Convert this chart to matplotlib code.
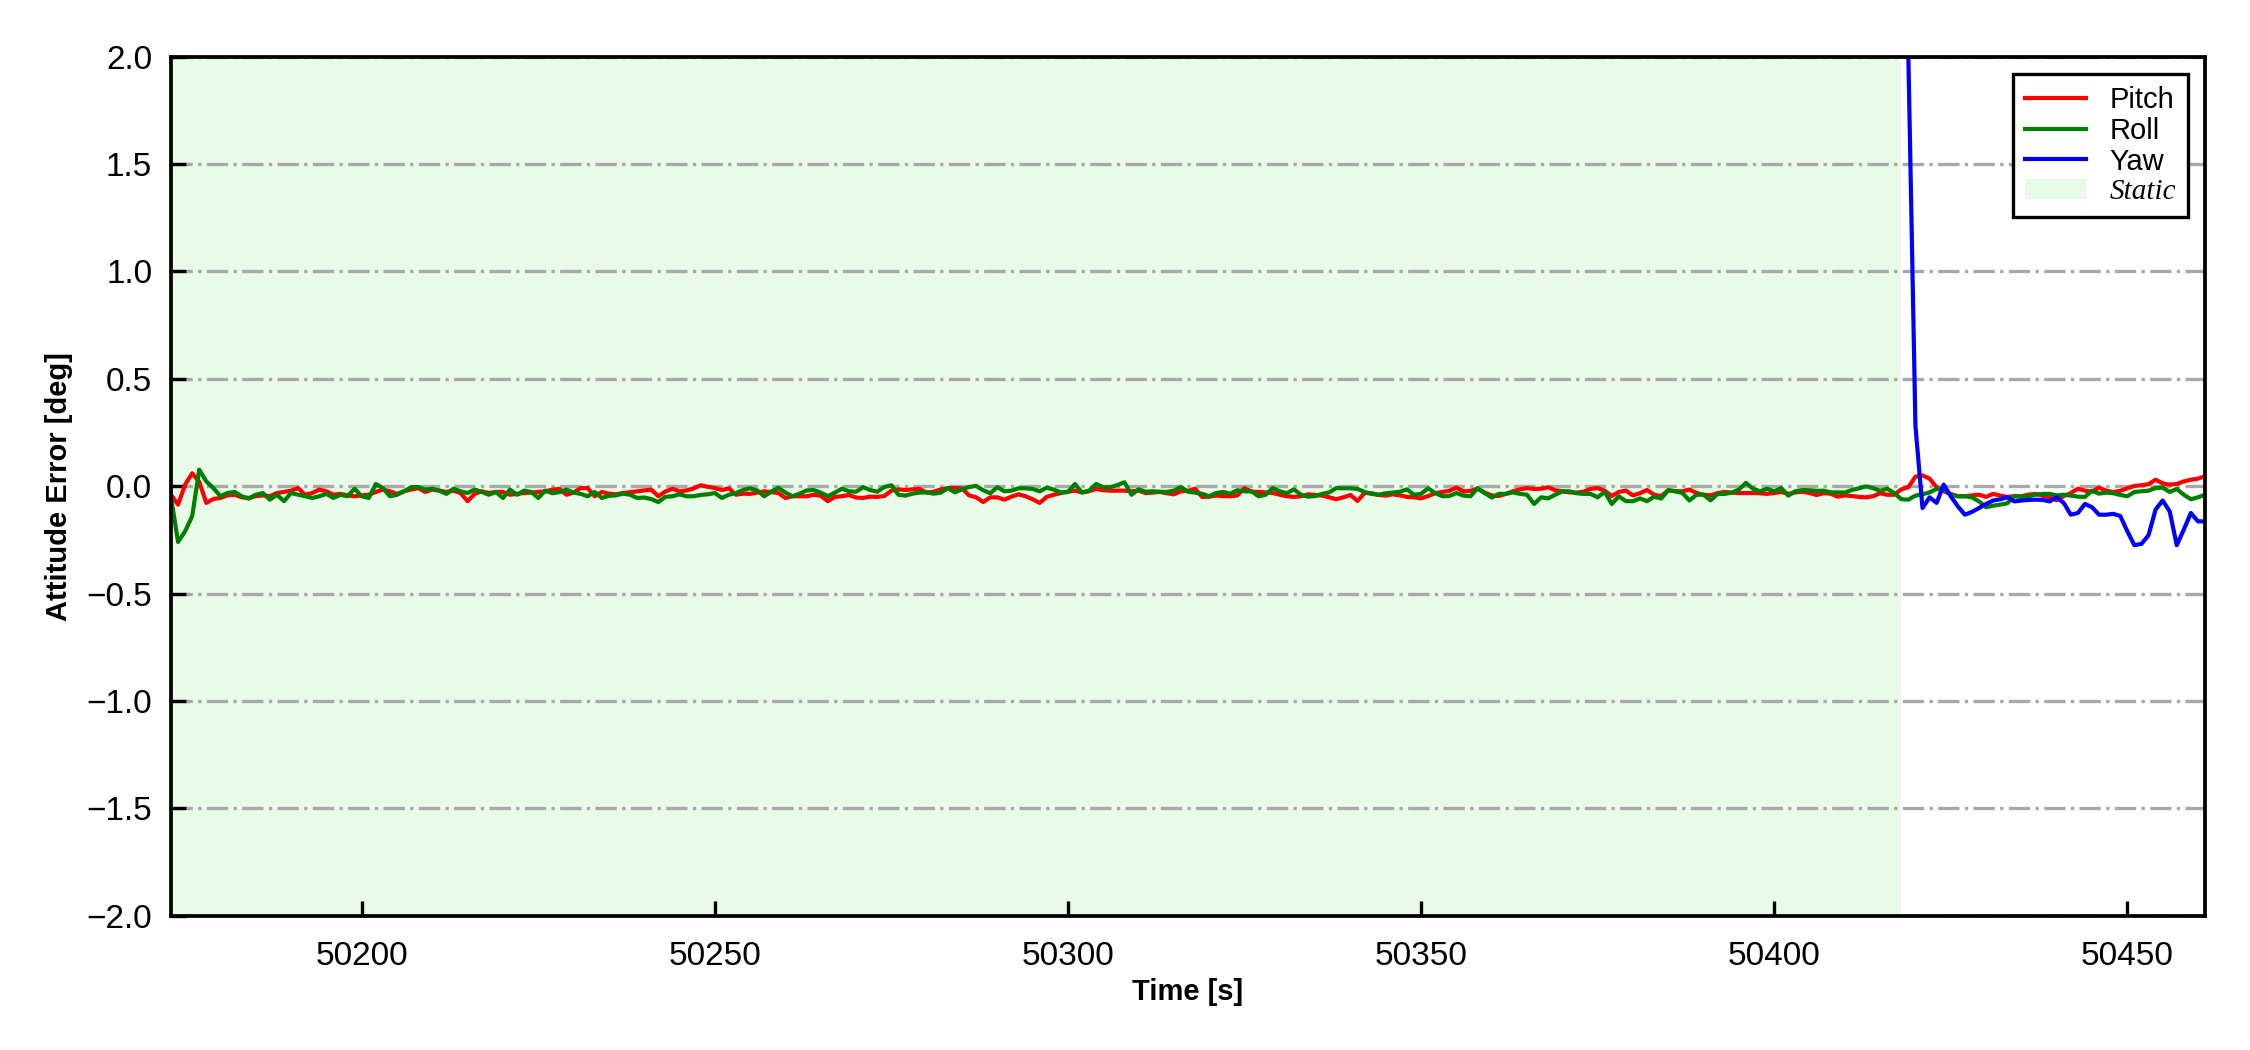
import numpy as np
import matplotlib
matplotlib.use('Agg')
import matplotlib.pyplot as plt
from matplotlib.patches import Patch
from matplotlib.lines import Line2D

# attitude errors sampled at 1 Hz, starting at t0
t0 = 50173
static_end = 50418

pitch = [
    -0.040, -0.086, 0.007, 0.060, 0.020, -0.078, -0.060, -0.055, -0.043, -0.040,
    -0.052, -0.055, -0.047, -0.043, -0.047, -0.032, -0.027, -0.021, -0.009, -0.040,
    -0.032, -0.016, -0.024, -0.040, -0.036, -0.043, -0.047, -0.043, -0.040, -0.027,
    -0.016, -0.024, -0.036, -0.024, -0.016, -0.009, -0.027, -0.016, -0.021, -0.027,
    -0.021, -0.032, -0.070, -0.036, -0.024, -0.032, -0.027, -0.027,
    -0.040, -0.036, -0.032, -0.030, -0.027, -0.024, -0.016, -0.013, -0.040, -0.030,
    -0.009, -0.009, -0.047, -0.027, -0.035, -0.038, -0.032, -0.028, -0.024, -0.020,
    -0.016, -0.047, -0.025, -0.012, -0.024, -0.020, -0.010, 0.004, -0.003, -0.009,
    -0.018, -0.010, -0.040, -0.035, -0.036, -0.030, -0.024, -0.028, -0.032, -0.055,
    -0.047, -0.047, -0.047, -0.040, -0.045, -0.070, -0.050, -0.047,
    -0.041, -0.053, -0.055, -0.049, -0.050, -0.046, -0.021, -0.015, -0.018, -0.015,
    -0.013, -0.030, -0.026, -0.015, -0.009, -0.009, -0.010, -0.043, -0.052, -0.074,
    -0.052, -0.052, -0.063, -0.049, -0.038, -0.047, -0.061, -0.078, -0.050, -0.040,
    -0.032, -0.026, -0.021, -0.029, -0.024, -0.013, -0.019, -0.021, -0.021, -0.021,
    -0.024, -0.021, -0.032, -0.030, -0.027, -0.033, -0.038, -0.024,
    -0.022, -0.012, -0.050, -0.049, -0.044, -0.046, -0.047, -0.043, -0.009, -0.026,
    -0.027, -0.029, -0.032, -0.040, -0.047, -0.050, -0.047, -0.038, -0.041, -0.044,
    -0.052, -0.061, -0.052, -0.041, -0.069, -0.032, -0.033, -0.041, -0.044, -0.038,
    -0.043, -0.050, -0.052, -0.057, -0.046, -0.033, -0.027, -0.022, -0.007, -0.024,
    -0.022, -0.012, -0.030, -0.043, -0.046, -0.036, -0.024, -0.015,
    -0.009, -0.013, -0.012, -0.005, -0.019, -0.024, -0.029, -0.030, -0.026, -0.013,
    -0.009, -0.021, -0.046, -0.027, -0.021, -0.043, -0.033, -0.018, -0.040, -0.046,
    -0.019, -0.024, -0.024, -0.016, -0.032, -0.040, -0.043, -0.032, -0.027, -0.030,
    -0.032, -0.032, -0.032, -0.033, -0.036, -0.032, -0.027, -0.036, -0.029, -0.026,
    -0.032, -0.041, -0.033, -0.035, -0.049, -0.043, -0.046, -0.050,
    -0.052, -0.047, -0.033, -0.040, -0.040, -0.015, -0.005, 0.044, 0.050, 0.035,
    -0.005, -0.024, -0.036, -0.047, -0.047, -0.043, -0.040, -0.050, -0.036, -0.044,
    -0.050, -0.047, -0.047, -0.040, -0.036, -0.044, -0.052, -0.066, -0.046, -0.032,
    -0.012, -0.021, -0.026, -0.007, -0.021, -0.027, -0.022, -0.010, 0.001, 0.004,
    0.009, 0.030, 0.013, 0.007, 0.010, 0.022, 0.030, 0.035, 0.046,
]

roll = [
    -0.050, -0.260, -0.210, -0.140, 0.077, 0.022, -0.009, -0.047, -0.032, -0.027,
    -0.047, -0.058, -0.040, -0.032, -0.063, -0.040, -0.070, -0.032, -0.040, -0.047,
    -0.055, -0.047, -0.036, -0.055, -0.040, -0.047, -0.012, -0.047, -0.055, 0.010,
    -0.009, -0.047, -0.040, -0.024, -0.005, -0.004, -0.016, -0.012, -0.021, -0.036,
    -0.012, -0.024, -0.032, -0.016, -0.027, -0.040, -0.027, -0.055,
    -0.016, -0.040, -0.021, -0.027, -0.055, -0.021, -0.033, -0.028, -0.016, -0.030,
    -0.036, -0.047, -0.027, -0.055, -0.045, -0.043, -0.035, -0.040, -0.055, -0.053,
    -0.060, -0.074, -0.050, -0.047, -0.038, -0.047, -0.047, -0.041, -0.038, -0.032,
    -0.055, -0.040, -0.032, -0.018, -0.010, -0.020, -0.047, -0.025, -0.008, -0.030,
    -0.047, -0.035, -0.020, -0.018, -0.030, -0.047, -0.030, -0.012,
    -0.024, -0.026, -0.005, -0.018, -0.026, -0.004, 0.004, -0.040, -0.044, -0.035,
    -0.030, -0.029, -0.035, -0.030, -0.009, -0.029, -0.015, -0.004, 0.001, -0.019,
    -0.033, -0.005, -0.024, -0.021, -0.010, -0.010, -0.013, -0.024, -0.007, -0.016,
    -0.029, -0.027, 0.010, -0.030, -0.021, 0.010, -0.005, -0.005, 0.005, 0.018,
    -0.040, -0.015, -0.026, -0.024, -0.026, -0.027, -0.021, -0.004,
    -0.026, -0.030, -0.036, -0.047, -0.032, -0.027, -0.035, -0.019, -0.024, -0.024,
    -0.047, -0.040, -0.009, -0.024, -0.033, -0.015, -0.040, -0.049, -0.046, -0.036,
    -0.029, -0.009, -0.010, -0.010, -0.013, -0.027, -0.036, -0.040, -0.033, -0.030,
    -0.026, -0.015, -0.040, -0.036, -0.010, -0.032, -0.047, -0.046, -0.032, -0.044,
    -0.047, -0.009, -0.032, -0.053, -0.036, -0.036, -0.029, -0.036,
    -0.040, -0.083, -0.052, -0.057, -0.040, -0.024, -0.024, -0.033, -0.036, -0.036,
    -0.052, -0.027, -0.083, -0.047, -0.070, -0.070, -0.057, -0.070, -0.049, -0.058,
    -0.019, -0.024, -0.032, -0.067, -0.040, -0.040, -0.066, -0.036, -0.036, -0.030,
    -0.016, 0.015, -0.012, -0.024, -0.012, -0.024, -0.009, -0.044, -0.024, -0.018,
    -0.019, -0.022, -0.021, -0.029, -0.029, -0.030, -0.018, -0.010,
    -0.001, -0.009, -0.022, -0.012, -0.032, -0.061, -0.063, -0.044, -0.038, -0.029,
    -0.013, -0.018, -0.040, -0.047, -0.047, -0.052, -0.071, -0.098, -0.091, -0.086,
    -0.080, -0.046, -0.050, -0.047, -0.040, -0.036, -0.036, -0.043, -0.040, -0.044,
    -0.049, -0.050, -0.021, -0.035, -0.030, -0.033, -0.041, -0.047, -0.027, -0.024,
    -0.021, -0.009, -0.007, -0.027, -0.013, -0.040, -0.061, -0.052, -0.040,
]

# yaw only after the static alignment, starts far off scale
yaw_t0 = 50418
yaw = [
    3.80, 2.00, 0.28, -0.102, -0.052, -0.078, 0.007, -0.047, -0.094, -0.133,
    -0.120, -0.102, -0.083, -0.067, -0.061, -0.052, -0.071, -0.067, -0.064, -0.063,
    -0.064, -0.071, -0.052, -0.078, -0.133, -0.125, -0.083, -0.098, -0.133, -0.133,
    -0.129, -0.139, -0.210, -0.275, -0.269, -0.229, -0.109, -0.067, -0.117, -0.275,
    -0.202, -0.125, -0.164, -0.164,
]

t = t0 + np.arange(len(pitch))
t_yaw = yaw_t0 + np.arange(len(yaw))

plt.rcParams['font.family'] = ['Liberation Sans', 'DejaVu Sans']

fig = plt.figure(figsize=(7.5, 3.5), dpi=300)
ax = fig.add_axes([0.076, 0.128, 0.904, 0.818])

ax.axvspan(t0, static_end, color='lightgreen', alpha=0.2, lw=0)
ax.plot(t, pitch, color='r', lw=1.0)
ax.plot(t, roll, color='g', lw=1.0)
ax.plot(t_yaw, yaw, color='b', lw=1.0)

ax.set_xlim(50173, 50461)
ax.set_ylim(-2, 2)
ax.set_yticks(np.arange(-2, 2.01, 0.5))
ax.grid(axis='y', linestyle='-.', color='darkgray', lw=0.8)
ax.tick_params(direction='in', length=3.5, width=0.8, labelsize=8)
ax.tick_params(axis='x', pad=6)
ax.tick_params(axis='y', pad=4.5)
for s in ax.spines.values():
    s.set_linewidth(0.9)

lab_font = dict(family=['Liberation Sans Narrow', 'Liberation Sans'], weight='bold', size=7)
ax.set_xlabel('Time [s]', fontdict=lab_font, labelpad=1.6)
ax.set_ylabel('Attitude Error [deg]', fontdict=lab_font, labelpad=3.2)

handles = [Line2D([], [], color='r', lw=1.0),
           Line2D([], [], color='g', lw=1.0),
           Line2D([], [], color='b', lw=1.0),
           Patch(facecolor='lightgreen', alpha=0.2, lw=0)]
leg = ax.legend(handles, ['Pitch', 'Roll', 'Yaw', 'Static'], loc='upper right',
                fontsize=7, fancybox=False, edgecolor='black', framealpha=1,
                labelspacing=0.1, handlelength=2.1, borderpad=0.4,
                borderaxespad=0.6)
leg.get_frame().set_linewidth(0.8)
leg.get_texts()[3].set_fontfamily('Liberation Serif')
leg.get_texts()[3].set_fontstyle('italic')

fig.savefig('out.png', dpi=300)
